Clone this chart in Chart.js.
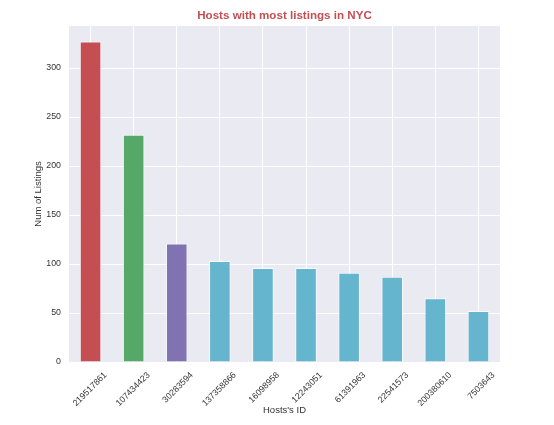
<!DOCTYPE html>
<html lang="en">
<head>
    <meta charset="UTF-8">
    <title>Hosts with most listings in NYC</title>
    <style>
        html, body {
            margin: 0;
            padding: 0;
            background: #fff;
        }
        #chart {
            display: block;
        }
    </style>
</head>
<body>
<canvas id="chart" width="554" height="425"></canvas>

<script src="https://cdn.jsdelivr.net/npm/chart.js@4.4.1/dist/chart.umd.min.js"></script>
<script>
// data
const hostIds = ['219517861', '107434423', '30283594', '137358866', '16098958',
                 '12243051', '61391963', '22541573', '200380610', '7503643'];
const listingCounts = [327, 232, 121, 103, 96, 96, 91, 87, 65, 52];
const barColors = ['#c44e52', '#55a868', '#8172b2', '#64b5cd', '#64b5cd',
                   '#64b5cd', '#64b5cd', '#64b5cd', '#64b5cd', '#64b5cd'];
const yTickStep = 50;
const yMax = 343;

const FONT = "'Liberation Sans', Arial, sans-serif";
const TEXT = '#333333';

// seaborn darkgrid style panel
const panelBg = {
    id: 'panelBg',
    beforeDraw(chart) {
        const { ctx, chartArea: a } = chart;
        ctx.save();
        ctx.fillStyle = '#eaeaf2';
        ctx.fillRect(a.left, a.top, a.right - a.left, a.bottom - a.top);
        ctx.restore();
    }
};

new Chart(document.getElementById('chart'), {
    type: 'bar',
    data: {
        labels: hostIds,
        datasets: [{
            data: listingCounts,
            backgroundColor: barColors,
            borderColor: 'rgba(255,255,255,0.7)',
            borderWidth: 1,
            barPercentage: 0.5,
            categoryPercentage: 1.0
        }]
    },
    options: {
        responsive: false,
        animation: false,
        layout: { padding: { left: 0, right: 54, top: 0, bottom: 0 } },
        plugins: {
            legend: { display: false },
            tooltip: { enabled: false },
            title: {
                display: true,
                fullSize: false,   // centre over the plot, like matplotlib
                text: 'Hosts with most listings in NYC',
                color: '#c44e52',
                font: { family: FONT, size: 11.6, weight: 'bold' },
                padding: { top: 9, bottom: 3 }
            }
        },
        scales: {
            x: {
                grid: { color: '#ffffff', lineWidth: 1, offset: false, drawTicks: false },
                border: { display: false },
                ticks: {
                    color: TEXT,
                    font: { family: FONT, size: 8.8 },
                    minRotation: 45,
                    maxRotation: 45,
                    padding: 8,
                    labelOffset: 15,
                    autoSkip: false
                },
                title: {
                    display: true,
                    text: "Hosts's ID",
                    color: TEXT,
                    font: { family: FONT, size: 9.5 },
                    padding: { top: 0, bottom: 9 }
                },
                afterFit(scale) { scale.height = 63; }
            },
            y: {
                min: 0,
                max: yMax,
                grid: { color: '#ffffff', lineWidth: 1, drawTicks: false },
                border: { display: false },
                ticks: {
                    stepSize: yTickStep,
                    color: TEXT,
                    font: { family: FONT, size: 8.8 },
                    padding: 8
                },
                afterBuildTicks(scale) {
                    scale.ticks = scale.ticks.filter(t => t.value % yTickStep === 0);
                },
                title: {
                    display: true,
                    text: 'Num of Listings',
                    color: TEXT,
                    font: { family: FONT, size: 9.5 },
                    padding: { top: 33, bottom: 0 }
                },
                afterFit(scale) { scale.width = 69; }
            }
        }
    },
    plugins: [panelBg]
});
</script>
</body>
</html>
